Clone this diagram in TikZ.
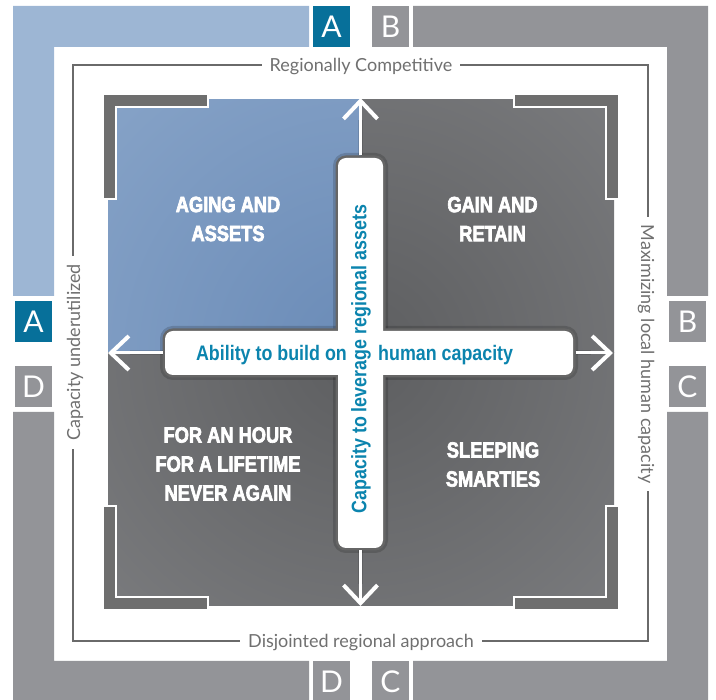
\documentclass[tikz,border=0pt]{standalone}
\usepackage{fontspec}
\setmainfont{Lato}
\newfontfamily\condfont[FakeStretch=0.85]{Liberation Sans}
\newfontfamily\heavyfont[FakeStretch=0.83, FakeBold=3]{Liberation Sans Bold}
\usetikzlibrary{arrows.meta}
\definecolor{bandblue}{HTML}{9DB6D4}
\definecolor{bandgray}{HTML}{939498}
\definecolor{boxteal}{HTML}{07709A}
\definecolor{bracketgray}{HTML}{6E6E6E}
\definecolor{framegray}{HTML}{6A6A6A}
\definecolor{labelgray}{HTML}{707070}
\definecolor{barteal}{HTML}{0B84AE}
\definecolor{bordergray}{HTML}{666666}
\definecolor{qblueIn}{HTML}{6A8BB7}
\definecolor{qblueOut}{HTML}{A2BAD7}
\definecolor{qgrayIn}{HTML}{5D5E60}
\definecolor{qgrayOut}{HTML}{96979A}
\begin{document}
\begin{tikzpicture}[x=1pt,y=-1pt,
  lbox/.style={minimum width=37pt, minimum height=41pt, inner sep=0pt, text=white,
    font=\fontsize{30}{30}\selectfont},
  edgelabel/.style={fill=white, text=labelgray, inner xsep=8pt, inner ysep=3pt,
    font=\fontsize{18}{18}\selectfont, anchor=base},
  quadtext/.style={text=white, align=center, inner sep=0pt,
    font=\heavyfont\fontsize{22}{29}\selectfont},
  bartext/.style={text=barteal, inner sep=0pt,
    font=\condfont\bfseries\fontsize{21}{21}\selectfont},
  bracket/.style={fill=bracketgray, draw=white, line width=2pt},
  vbarshape/.style={rectangle, rounded corners=8pt, minimum width=45pt, minimum height=390pt, inner sep=0pt},
  hbarshape/.style={rectangle, rounded corners=8pt, minimum width=408pt, minimum height=44pt, inner sep=0pt},
  barshadow/.style={draw=black, draw opacity=0.16, line width=10pt},
  barborder/.style={draw=bordergray, line width=5pt},
  barfill/.style={fill=white},
  shaftshadow/.style={draw=black, draw opacity=0.12, line width=5pt},
  headtip/.style={draw=white, line width=3pt, -{Straight Barb[length=18pt,width=34pt,line width=4pt]}}
]
\useasboundingbox (0,0) rectangle (716,700);

% outer bands
\fill[bandblue] (13,6) -- (309,6) -- (309,47) -- (54,47) -- (54,296) -- (13,296) -- cycle;
\fill[bandgray] (413,6) -- (708,6) -- (708,296) -- (667,296) -- (667,47) -- (413,47) -- cycle;
\fill[bandgray] (708,412) -- (708,702) -- (413,702) -- (413,661) -- (667,661) -- (667,412) -- cycle;
\fill[bandgray] (13,412) -- (54,412) -- (54,661) -- (309,661) -- (309,702) -- (13,702) -- cycle;

% letter boxes
\node[lbox, fill=boxteal] (At) at (331.5,26.5) {A};
\node[lbox, fill=bandgray] (Bt) at (390.5,26.5) {B};
\node[lbox, fill=boxteal] (Al) at (33.5,322) {A};
\node[lbox, fill=bandgray] (Dl) at (33.5,386.5) {D};
\node[lbox, fill=bandgray] (Br) at (687.5,322) {B};
\node[lbox, fill=bandgray] (Cr) at (687.5,386.5) {C};
\node[lbox, fill=bandgray] (Db) at (331.5,681.5) {D};
\node[lbox, fill=bandgray] (Cb) at (390.5,681.5) {C};

% thin frame and its labels
\draw[framegray, line width=1.2pt] (73,65) rectangle (648,641);
\node[edgelabel] (lt) at (361,72) {Regionally Competitive};
\node[edgelabel] (lb) at (361,648) {Disjointed regional approach};
\node[edgelabel, rotate=90] (ll) at (80,352.5) {Capacity underutilized};
\node[edgelabel, rotate=-90] (lr) at (641,354) {Maximizing local human capacity};

% quadrants
\begin{scope}
  \clip (108,100) rectangle (361,353);
  \shade[inner color=qblueIn, outer color=qblueOut] (361,353) circle[radius=720pt];
\end{scope}
\begin{scope}
  \clip (361,100) rectangle (614,353);
  \shade[inner color=qgrayIn, outer color=qgrayOut] (361,353) circle[radius=720pt];
\end{scope}
\begin{scope}
  \clip (108,353) rectangle (361,606);
  \shade[inner color=qgrayIn, outer color=qgrayOut] (361,353) circle[radius=720pt];
\end{scope}
\begin{scope}
  \clip (361,353) rectangle (614,606);
  \shade[inner color=qgrayIn, outer color=qgrayOut] (361,353) circle[radius=720pt];
\end{scope}

% corner brackets
\draw[bracket] (103,94) -- (208,94) -- (208,107) -- (116,107) -- (116,199) -- (103,199) -- cycle;
\draw[bracket] (619,94) -- (514,94) -- (514,107) -- (606,107) -- (606,199) -- (619,199) -- cycle;
\draw[bracket] (103,610) -- (208,610) -- (208,597) -- (116,597) -- (116,506) -- (103,506) -- cycle;
\draw[bracket] (619,610) -- (514,610) -- (514,597) -- (606,597) -- (606,506) -- (619,506) -- cycle;

% quadrant texts
\node[quadtext] (q1) at (228,219) {AGING AND\\ASSETS};
\node[quadtext] (q2) at (492.5,219) {GAIN AND\\RETAIN};
\node[quadtext] (q3) at (228,464) {FOR AN HOUR\\FOR A LIFETIME\\NEVER AGAIN};
\node[quadtext] (q4) at (493,464.5) {SLEEPING\\SMARTIES};

% cross bars (shadow, border, fill)
\node[vbarshape, barshadow] (vbS) at (360.5,353) {};
\node[hbarshape, barshadow] (hbS) at (369,353) {};
\node[vbarshape, barborder] (vbB) at (360.5,353) {};
\node[hbarshape, barborder] (hbB) at (369,353) {};
\coordinate (tipT) at (360.5,98);
\coordinate (tipB) at (360.5,606);
\coordinate (tipL) at (108,353);
\coordinate (tipR) at (613,353);
% arrows
\draw[shaftshadow] (vbB.north) -- ([yshift=-22pt]tipT);
\draw[shaftshadow] (vbB.south) -- ([yshift=22pt]tipB);
\draw[shaftshadow] (hbB.west) -- ([xshift=22pt]tipL);
\draw[shaftshadow] (hbB.east) -- ([xshift=-22pt]tipR);
\draw[headtip] (vbB.north) -- (tipT);
\draw[headtip] (vbB.south) -- (tipB);
\draw[headtip] (hbB.west) -- (tipL);
\draw[headtip] (hbB.east) -- (tipR);
\node[vbarshape, barfill] (vb) at (360.5,353) {};
\node[hbarshape, barfill] (hb) at (369,353) {};

% bar texts
\node[bartext, anchor=base east] (ht1) at (347,361) {Ability to build on};
\node[bartext, anchor=base west] (ht2) at (378,361) {human capacity};
\node[bartext, rotate=90] (vt) at (361,359) {Capacity to leverage regional assets};
\end{tikzpicture}
\end{document}
